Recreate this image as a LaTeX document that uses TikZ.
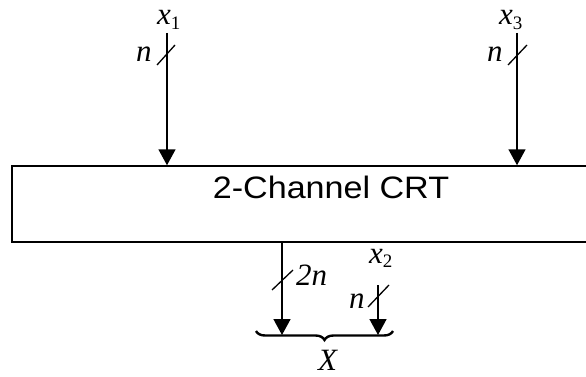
\documentclass[tikz,border=0pt]{standalone}
\usepackage{fontspec}
\setmainfont{Liberation Serif}
\newfontfamily\crtfont[FakeStretch=1.1]{Liberation Sans}
\usepackage{tikz}
\usetikzlibrary{arrows.meta,decorations.pathreplacing}
\tikzstyle{block} = [rectangle, draw, line width=1.5pt, minimum width=588pt,
    minimum height=76pt, inner sep=0pt]
\tikzstyle{line} = [draw, line width=1.6pt, -{Triangle[length=16pt,width=17pt]}]
\tikzstyle{tick} = [draw, line width=1.3pt]
\tikzstyle{lbl} = [font=\fontsize{31}{34}\selectfont\itshape, inner sep=0pt, anchor=base west]
\newcommand{\xsub}[2]{#1\raisebox{-0.35ex}{\fontsize{19}{19}\selectfont\upshape #2}}

\begin{document}
\begin{tikzpicture}[x=1pt, y=-1pt]
    \useasboundingbox (0,0) rectangle (586,377);
    % Place nodes
    \node [block] (crt) at (306,204) {};
    \node [font=\crtfont\fontsize{31}{33}\selectfont] (title) at (331,187) {2-Channel CRT};
    \node [lbl] (x1) at (157,25) {\xsub{x}{1}};
    \node [lbl] (n1) at (136,62) {n};
    \node [lbl] (x3) at (499,25) {\xsub{x}{3}};
    \node [lbl] (n3) at (487,62) {n};
    \node [lbl] (n2n) at (296,285) {2n};
    \node [lbl] (x2) at (369,263) {\xsub{x}{2}};
    \node [lbl] (n2) at (349,308) {n};
    \node [lbl] (X) at (318,370) {X};
    \coordinate (in1) at (167,33);
    \coordinate (in3) at (517,33);
    \coordinate (out) at (282,242);
    \coordinate (in2) at (378,285);
    \coordinate (b1) at (282,335);
    \coordinate (b2) at (378,335);

  \path [line] (in1) -- (in1 |- crt.north);
  \path [line] (in3) -- (in3 |- crt.north);
  \path [line] (out) -- (b1);
  \path [line] (in2) -- (b2);
  \path [tick] (157,65) -- (175,45);
  \path [tick] (508,65) -- (527,45);
  \path [tick] (272,290) -- (293,270);
  \path [tick] (368,307) -- (389,285);
  \draw [line width=2.4pt, decorate, decoration={brace, mirror, amplitude=9pt}]
    (256,331) -- (393,331);
\end{tikzpicture}
\end{document}
